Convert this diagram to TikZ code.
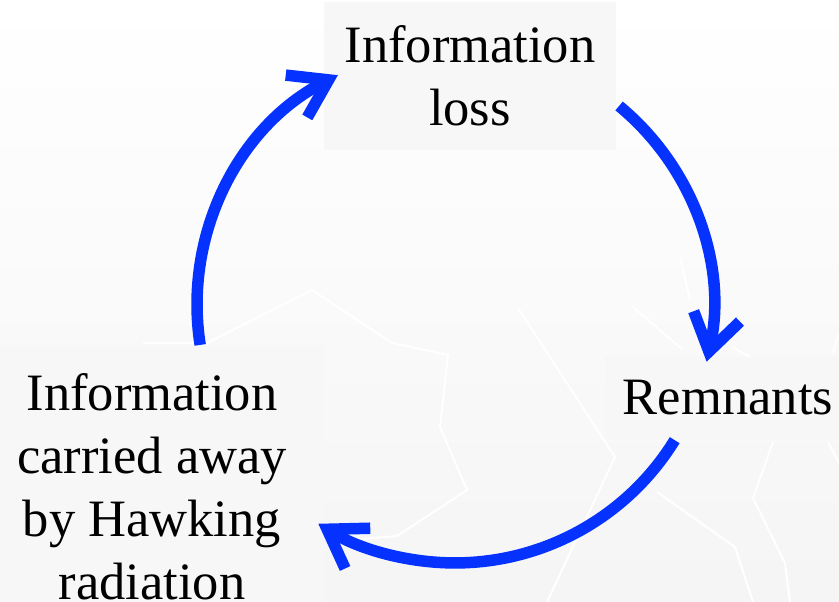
\documentclass[tikz,border=0pt]{standalone}
\usepackage{fontspec}
\setmainfont{Liberation Serif}
\usetikzlibrary{arrows.meta}

\definecolor{cycleblue}{RGB}{5,50,255}
\definecolor{boxgray}{RGB}{247,247,247}

\tikzset{
    stage/.style = {fill = boxgray, align = center, inner sep = 0pt,
                    font = \fontsize{29.9pt}{35.9pt}\selectfont},
    flow/.style  = {draw = cycleblue, line width = 0.23cm,
                    -{Straight Barb[length = 0.72cm, width = 0.95cm]}},
    crack/.style = {draw = white, line width = 0.04cm}
}

\begin{document}
\begin{tikzpicture}[x = 0.02cm, y = 0.02cm]
    \useasboundingbox (0, 0) rectangle (839, -602);
    \fill[top color = white, bottom color = gray!8] (0, 0) rectangle (839, -602);

    % faint cracks in the background
    \draw[crack] (143, -343) -- (207, -343) -- (312, -290) -- (392, -343) -- (448, -355)
        -- (440, -427) -- (467, -490) -- (397, -536) -- (350, -540);
    \draw[crack] (518, -308) -- (615, -457) -- (547, -602);
    \draw[crack] (633, -307) -- (683, -350);
    \draw[crack] (680, -257) -- (690, -300);
    \draw[crack] (732, -347) -- (750, -357);
    \draw[crack] (657, -492) -- (735, -547) -- (753, -602);
    \draw[crack] (773, -442) -- (753, -498) -- (785, -563) -- (790, -602);
    \draw[crack] (828, -442) -- (839, -463);
    \draw[crack] (833, -353) -- (839, -333);

    % the three stages
    \node[stage, minimum width = 5.86cm, minimum height = 2.96cm] (loss) at (470, -76) {Information\\loss};
    \node[stage, minimum width = 4.92cm, minimum height = 1.66cm] (remnants) at (728, -398) {Remnants};
    \node[stage, minimum width = 6.9cm, minimum height = 5.7cm] (hawking) at (152, -487)
        {Information\\carried away\\by Hawking\\radiation};

    % the cycle
    \coordinate (hub) at (455, -305);
    \draw[flow] ([shift = {(188.9:5.16cm)}]hub) arc[start angle = 188.9, end angle = 117, radius = 5.16cm];
    \draw[flow] ([shift = {(50.5:5.16cm)}]hub) arc[start angle = 50.5, end angle = -12.7, radius = 5.16cm];
    \draw[flow] ([shift = {(-31.6:5.16cm)}]hub) arc[start angle = -31.6, end angle = -122, radius = 5.16cm];
\end{tikzpicture}
\end{document}
